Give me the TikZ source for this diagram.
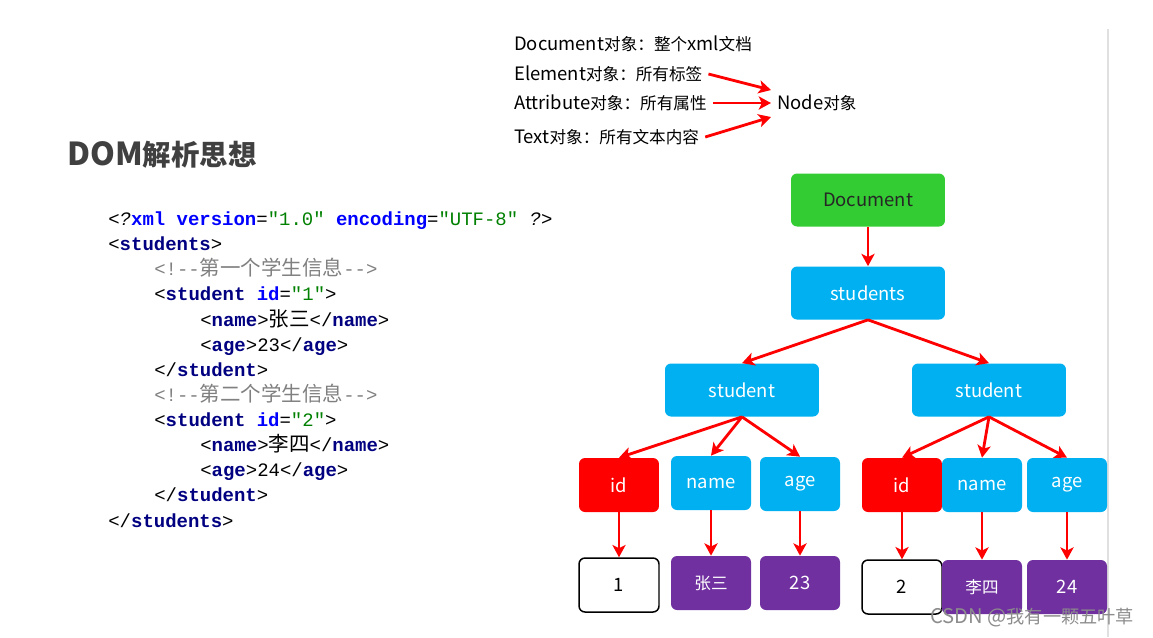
\documentclass[tikz,border=0pt]{standalone}
\usepackage{fontspec}
\setmainfont{Noto Sans CJK SC}
\setmonofont{Liberation Mono}
\newfontfamily\cjk{Noto Sans CJK SC}[Scale=0.9]
\newfontfamily\cjkcode{Noto Sans CJK SC}[Scale=1.08]
\usetikzlibrary{arrows.meta}
\definecolor{docgreen}{HTML}{33CC33}
\definecolor{nodeblue}{HTML}{00B0F0}
\definecolor{valpurple}{HTML}{7030A0}
\definecolor{tagnavy}{HTML}{000080}
\definecolor{attrblue}{HTML}{0000FF}
\definecolor{strgreen}{HTML}{008000}
\definecolor{cmtgrey}{HTML}{808080}
\definecolor{titlegrey}{HTML}{404040}
\newcommand{\zh}[1]{{\cjk #1}}
\newcommand{\zhc}[1]{{\cjkcode #1}}
\newcommand{\xtag}[1]{{\color{tagnavy}\bfseries #1}}
\newcommand{\xattr}[1]{{\color{attrblue}\bfseries #1}}
\newcommand{\xstr}[1]{{\color{strgreen}#1}}
\newcommand{\xcmt}[1]{{\color{cmtgrey}#1}}
\newcommand{\xind}{\hspace*{0.92cm}}
\tikzset{
  box/.style={rounded corners=0.12cm, inner sep=0pt, minimum width=3.08cm, minimum height=1.06cm, text=white, font=\fontsize{10.5}{12}\selectfont},
  leafbox/.style={box, minimum width=1.6cm, minimum height=1.08cm},
  label/.style={anchor=west, font=\fontsize{10.5}{12}\selectfont},
  link/.style={->, red, line width=1.6pt}
}
\begin{document}
\begin{tikzpicture}[x=0.02cm,y=-0.02cm,>={Stealth[length=7pt,width=7.5pt,inset=1.8pt]}]
\useasboundingbox (0,0) rectangle (1153,637);
\draw[black!12, line width=0.6pt] (1108,29) -- (1108,637);
% object kinds
\node[label] (docobj) at (508,44) {Document\zh{对象：整个}xml\zh{文档}};
\node[label] (elemobj) at (508,74) {Element\zh{对象：所有标签}};
\node[label] (attrobj) at (508,103) {Attribute\zh{对象：所有属性}};
\node[label] (textobj) at (508,137) {Text\zh{对象：所有文本内容}};
\node[label] (nodeobj) at (771,103) {Node\zh{对象}};
\draw[link] (elemobj.east) -- ([yshift=0.26cm]nodeobj.west);
\draw[link] (attrobj.east) -- (nodeobj.west);
\draw[link] (textobj.east) -- ([yshift=-0.28cm]nodeobj.west);
% title and xml source
\node[anchor=west, inner sep=0pt, text=titlegrey, font=\bfseries\fontsize{18}{20}\selectfont] (title) at (67,155) {DOM\zh{解析思想}};
\node[anchor=base west, align=left, inner sep=0pt, font=\ttfamily\fontsize{10.8}{14.3}\selectfont] (code) at (108,527) {%
<\textit{?}\xattr{xml version}=\xstr{"1.0"} \xattr{encoding}=\xstr{"UTF-8"} \textit{?}>\\
<\xtag{students}>\\
\xind\xcmt{<!--\zhc{第一个学生信息}-->}\\
\xind<\xtag{student} \xattr{id}=\xstr{"1"}>\\
\xind\xind<\xtag{name}>\zhc{张三}</\xtag{name}>\\
\xind\xind<\xtag{age}>23</\xtag{age}>\\
\xind</\xtag{student}>\\
\xind\xcmt{<!--\zhc{第二个学生信息}-->}\\
\xind<\xtag{student} \xattr{id}=\xstr{"2"}>\\
\xind\xind<\xtag{name}>\zhc{李四}</\xtag{name}>\\
\xind\xind<\xtag{age}>24</\xtag{age}>\\
\xind</\xtag{student}>\\
</\xtag{students}>};
% tree
\node[box, fill=docgreen, text=black!85] (document) at (868,200) {Document};
\node[box, fill=nodeblue] (students) at (868,293) {students};
\node[box, fill=nodeblue] (stuA) at (742,390) {student};
\node[box, fill=nodeblue] (stuB) at (989,390) {student};
\node[leafbox, fill=red] (idA) at (619,485) {id};
\node[leafbox, fill=nodeblue] (nameA) at (711,483) {name};
\node[leafbox, fill=nodeblue] (ageA) at (800,484) {age};
\node[leafbox, fill=red] (idB) at (902,485) {id};
\node[leafbox, fill=nodeblue] (nameB) at (982,485) {name};
\node[leafbox, fill=nodeblue] (ageB) at (1067,485) {age};
\node[leafbox, draw=black, line width=0.85pt, fill=white, text=black] (valA) at (619,585) {1};
\node[leafbox, fill=valpurple] (zsA) at (711,583) {\zh{张三}};
\node[leafbox, fill=valpurple] (numA) at (800,583) {23};
\node[leafbox, draw=black, line width=0.85pt, fill=white, text=black] (valB) at (902,587) {2};
\node[leafbox, fill=valpurple] (lsB) at (982,587) {\zh{李四}};
\node[leafbox, fill=valpurple] (numB) at (1067,587) {24};
\foreach \a/\b in {document/students, students/stuA, students/stuB,
  stuA/idA, stuA/nameA, stuA/ageA, stuB/idB, stuB/nameB, stuB/ageB,
  idA/valA, nameA/zsA, ageA/numA, idB/valB, nameB/lsB, ageB/numB}
  \draw[link] (\a.south) -- (\b.north);
\node[text=black!45, font=\fontsize{11.5}{14}\selectfont] (mark) at (1032,618) {CSDN @\zh{我有一颗五叶草}};
\end{tikzpicture}
\end{document}
